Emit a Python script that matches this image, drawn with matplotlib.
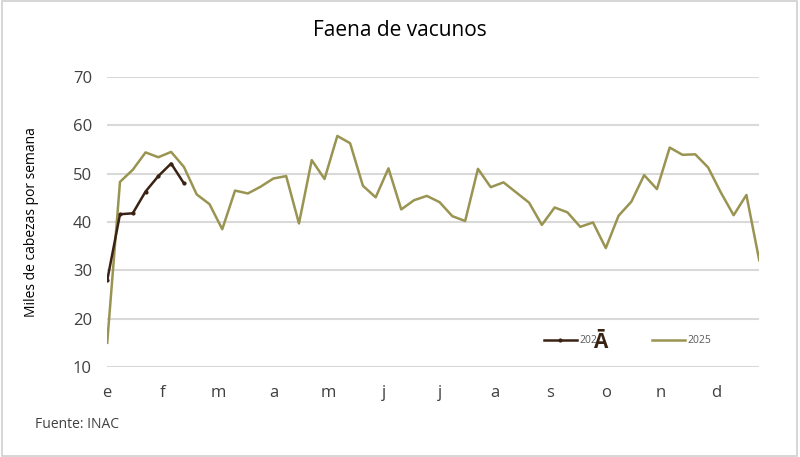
import numpy as np
import matplotlib.pyplot as plt
from matplotlib.patches import Rectangle

plt.rcParams['font.family'] = ['Open Sans', 'DejaVu Sans']

# Faena semanal (miles de cabezas)
semanas_2025 = np.arange(52)
faena_2025 = [15.0, 48.3, 50.8, 54.4, 53.4, 54.5, 51.4, 45.7, 43.7, 38.5,
              46.5, 45.9, 47.3, 49.0, 49.5, 39.7, 52.8, 48.9, 57.8, 56.3,
              47.5, 45.1, 51.1, 42.6, 44.5, 45.4, 44.1, 41.2, 40.2, 51.0,
              47.2, 48.2, 46.1, 44.0, 39.4, 43.0, 42.0, 39.0, 39.9, 34.6,
              41.3, 44.2, 49.7, 46.8, 55.4, 53.9, 54.0, 51.3, 46.1, 41.4,
              45.6, 32.1]
semanas_2026 = np.arange(7)
faena_2026 = [27.9, 41.6, 41.8, 46.3, 49.5, 52.1, 48.0]

meses = ['e', 'f', 'm', 'a', 'm', 'j', 'j', 'a', 's', 'o', 'n', 'd']
pos_meses = np.arange(12) * 52 / 12

color_2025 = '#9a9452'
color_2026 = '#3b2314'
gris_texto = '#404040'

fig = plt.figure(figsize=(8, 4.57), dpi=100)
ax = fig.add_axes([0.134, 0.197, 0.815, 0.6345])

ax.plot(semanas_2026, faena_2026, color=color_2026, lw=1.8, marker='o', ms=2,
        label='202', zorder=3)
ax.plot(semanas_2025, faena_2025, color=color_2025, lw=1.8, label='2025', zorder=2)

ax.set_xlim(0, 51)
ax.set_ylim(10, 70)
ax.set_yticks(range(10, 71, 10))
ax.set_xticks(pos_meses)
ax.set_xticklabels(meses)
ax.grid(axis='y', color='#d9d9d9', lw=1.5)
ax.set_axisbelow(True)
for s in ax.spines.values():
    s.set_visible(False)
ax.tick_params(axis='both', length=0, labelsize=12, labelcolor=gris_texto)
ax.tick_params(axis='y', pad=11)
ax.tick_params(axis='x', pad=13)

ax.set_ylabel('Miles de cabezas por semana', fontsize=10, color='black', labelpad=24)

leg = ax.legend(ncol=2, frameon=False, loc='center left',
                bbox_to_anchor=(0.655, 0.09), fontsize=7.5,
                handlelength=3.2, columnspacing=5.3, handletextpad=0.2,
                labelcolor='#595959')

fig.text(600 / 800, 1 - 343 / 457, 'Ā', fontsize=15, fontweight='bold',
         color=color_2026, ha='center', va='center')

fig.text(0.5, 1 - 30 / 457, 'Faena de vacunos', ha='center', va='center',
         fontsize=15, color='black')
fig.text(35 / 800, 1 - 425 / 457, 'Fuente: INAC', ha='left', va='center',
         fontsize=10, color=gris_texto)

fig.patches.append(Rectangle((0.002, 0.003), 0.994, 0.994, transform=fig.transFigure,
                             fill=False, edgecolor='#d0d0d0', lw=1.2))

fig.savefig('out.png', dpi=100)
